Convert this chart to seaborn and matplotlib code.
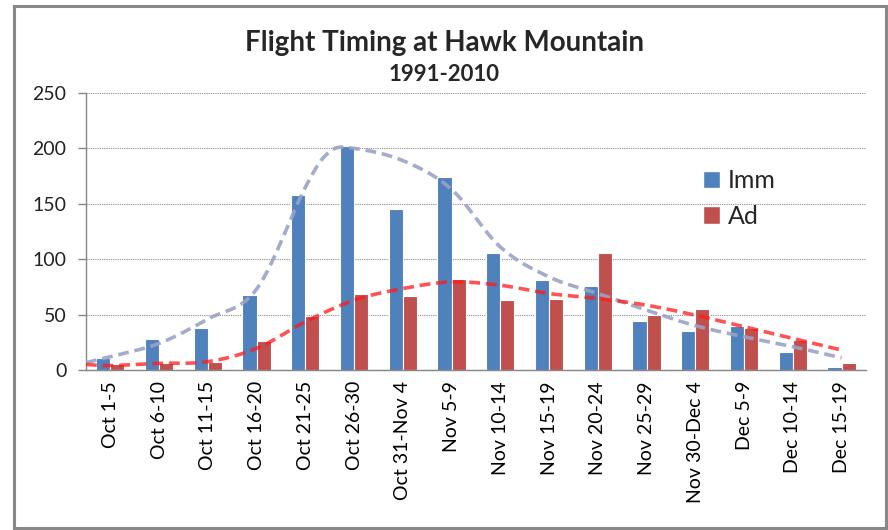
import numpy as np
import pandas as pd
import matplotlib
matplotlib.use("Agg")
import matplotlib.pyplot as plt
from matplotlib.patches import Rectangle, Patch
import seaborn as sns

# ── DATA ──────────────────────────────────────────────────────────────────────
periods = ["Oct 1-5", "Oct 6-10", "Oct 11-15", "Oct 16-20", "Oct 21-25",
           "Oct 26-30", "Oct 31-Nov 4", "Nov 5-9", "Nov 10-14", "Nov 15-19",
           "Nov 20-24", "Nov 25-29", "Nov 30-Dec 4", "Dec 5-9", "Dec 10-14",
           "Dec 15-19"]
imm = [11, 28, 38, 68, 158, 202, 145, 174, 106, 81, 76, 44, 35, 40, 16, 3]
ad = [5, 6, 7, 26, 49, 69, 67, 82, 63, 64, 106, 50, 55, 38, 27, 6]

# smoothed trend curves, first point sits on the left edge
imm_trend_x = [-0.5, 0, 1, 2, 3, 4, 4.5, 5, 6, 7, 8, 9, 10, 11, 12, 13, 14, 15]
imm_trend = [6.6, 12, 24, 46, 73, 165, 197, 200, 189, 163, 111, 84, 69, 54, 40, 30, 21, 11]
ad_trend_x = [-0.5, 0, 1, 2, 3, 4, 5, 6, 7, 8, 9, 10, 11, 12, 13, 14, 15]
ad_trend = [5, 4, 6, 7.5, 19.5, 43.5, 63, 73.5, 79.5, 76.5, 69, 64.5, 58.5, 49.5, 39, 28.5, 18]

BLUE = "#4F81BD"
RED = "#C0504D"
SPINE = "#868686"


def smooth(x, y, n=20):
    # Catmull-Rom style smoothing, like Excel's "smoothed line"
    x = np.asarray(x, float)
    y = np.asarray(y, float)
    px = np.concatenate([[2 * x[0] - x[1]], x, [2 * x[-1] - x[-2]]])
    py = np.concatenate([[2 * y[0] - y[1]], y, [2 * y[-1] - y[-2]]])
    xs, ys = [], []
    t = np.linspace(0, 1, n, endpoint=False)
    for i in range(1, len(px) - 2):
        for p, out in ((px, xs), (py, ys)):
            p0, p1, p2, p3 = p[i - 1], p[i], p[i + 1], p[i + 2]
            out.extend(0.5 * ((2 * p1) + (-p0 + p2) * t
                              + (2 * p0 - 5 * p1 + 4 * p2 - p3) * t ** 2
                              + (-p0 + 3 * p1 - 3 * p2 + p3) * t ** 3))
    xs.append(x[-1])
    ys.append(y[-1])
    return np.array(xs), np.array(ys)


df = pd.DataFrame({
    "period": periods * 2,
    "count": imm + ad,
    "age": ["Imm"] * len(periods) + ["Ad"] * len(periods),
})

sns.set_theme(style="white")
plt.rcParams["font.family"] = ["Lato", "DejaVu Sans"]

fig = plt.figure(figsize=(8.88, 5.30), dpi=100)
ax = fig.add_axes([0.0968, 0.3019, 0.8784, 0.5226])

sns.barplot(data=df, x="period", y="count", hue="age", order=periods,
            hue_order=["Imm", "Ad"], palette=[BLUE, RED], width=0.58,
            edgecolor="white", linewidth=0.8, saturation=1, ax=ax, legend=False)

sx, sy = smooth(imm_trend_x, imm_trend)
ax.plot(sx, sy, color="#9AA2C6", lw=2.6, dashes=(3, 1.6), alpha=0.9, zorder=4)
sx, sy = smooth(ad_trend_x, ad_trend)
ax.plot(sx, sy, color="#FF1A1A", lw=2.6, dashes=(3, 1.6), alpha=0.75, zorder=5)

ax.set_xlim(-0.5, len(periods) - 0.5)
ax.set_ylim(0, 250)
ax.set_yticks(range(0, 251, 50))
ax.yaxis.grid(True, color="#8C8C8C", ls=(0, (1, 1)), lw=0.8)
ax.set_axisbelow(True)
ax.set_xlabel("")
ax.set_ylabel("")

for s in ["top", "right"]:
    ax.spines[s].set_visible(False)
for s in ["left", "bottom"]:
    ax.spines[s].set_color(SPINE)
    ax.spines[s].set_linewidth(1.0)

ax.set_xticks(np.arange(-0.5, len(periods), 1), minor=True)
ax.tick_params(axis="x", which="major", length=0, pad=8, labelsize=14,
               labelrotation=90, labelcolor="black")
ax.tick_params(axis="x", which="minor", length=6, color=SPINE, width=1)
ax.tick_params(axis="y", length=6, color=SPINE, width=1, labelsize=14,
               labelcolor="#222222", pad=8)
ax.tick_params(axis="y", left=True)
ax.tick_params(axis="x", bottom=True)
for lab in ax.get_xticklabels():
    lab.set_va("top")

handles = [Patch(facecolor=BLUE, edgecolor="white"), Patch(facecolor=RED, edgecolor="white")]
ax.legend(handles, ["Imm", "Ad"], loc="center left", bbox_to_anchor=(0.762, 0.62),
          frameon=False, fontsize=18, handlelength=0.7, handleheight=0.7,
          handletextpad=0.3, labelspacing=0.5)

fig.text(0.5, 0.918, "Flight Timing at Hawk Mountain", ha="center", va="center",
         fontsize=20, fontweight="bold")
fig.text(0.5, 0.86, "1991-2010", ha="center", va="center", fontsize=16,
         fontweight="bold")

fig.patches.append(Rectangle((0.0158, 0.003), 0.982, 0.986, transform=fig.transFigure,
                             fill=False, edgecolor="#888888", lw=2.2))

fig.savefig("out.png", dpi=100)
